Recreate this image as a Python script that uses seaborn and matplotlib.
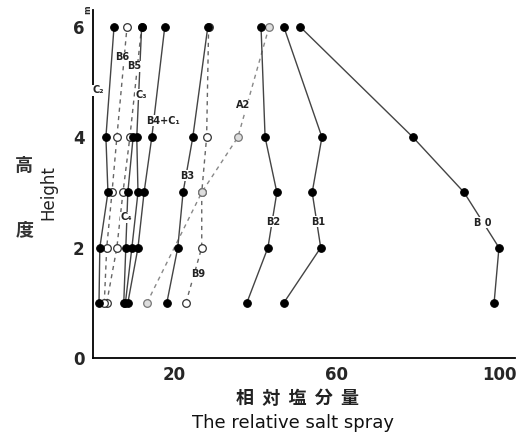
import numpy as np
import pandas as pd
import matplotlib
matplotlib.use("Agg")
import matplotlib.pyplot as plt
import seaborn as sns

# heights (m) where salt spray was sampled
HEIGHTS = [1, 2, 3, 4, 6]

# relative salt spray per station, listed bottom -> top
B0 = [98.8, 100.0, 91.4, 78.8, 51.0]
B1 = [47.0, 56.1, 54.0, 56.4, 47.0]
B2 = [37.9, 43.1, 45.3, 42.4, 41.4]
B3 = [18.2, 20.9, 22.2, 24.6, 28.3]
B9 = [22.9, 26.8, 26.8, 28.0, 28.5]
B4C1 = [8.6, 11.1, 12.6, 14.5, 17.7]
C3 = [8.0, 9.6, 11.1, 10.8, 12.0]
B5 = [3.4, 5.9, 7.4, 9.1, 12.0]
B6 = [2.8, 3.4, 4.7, 5.9, 8.4]
C2 = [1.5, 1.7, 3.7, 3.2, 5.2]

A2_HEIGHTS = [1, 3, 4, 6]
A2 = [13.3, 26.8, 35.7, 43.4]

C4_HEIGHTS = [1, 2, 3, 4]
C4 = [7.6, 8.1, 8.6, 9.9]

# curve labels: text, x, y
LABELS = [
    ("C\u2082", 1.2, 4.85),
    ("B6", 7.3, 5.45),
    ("B5", 10.2, 5.28),
    ("C\u2083", 11.8, 4.77),
    ("B4+C\u2081", 17.2, 4.3),
    ("A2", 37.0, 4.58),
    ("B3", 23.1, 3.3),
    ("C\u2084", 8.2, 2.55),
    ("B2", 44.3, 2.47),
    ("B1", 55.4, 2.47),
    ("B 0", 96.0, 2.45),
    ("B9", 25.9, 1.52),
]

solid = [("B0", B0, HEIGHTS), ("B1", B1, HEIGHTS), ("B2", B2, HEIGHTS),
         ("B3", B3, HEIGHTS), ("B4+C1", B4C1, HEIGHTS), ("C3", C3, HEIGHTS),
         ("C4", C4, C4_HEIGHTS), ("C2", C2, HEIGHTS)]
dashed = [("B9", B9, HEIGHTS), ("B5", B5, HEIGHTS), ("B6", B6, HEIGHTS)]

sns.set_style("white")
plt.rcParams["font.family"] = ["DejaVu Sans", "Noto Sans CJK JP"]

fig = plt.figure(figsize=(5.22, 4.41), dpi=100)
ax = fig.add_axes([0.178, 0.188, 0.809, 0.789])

for name, vals, hs in dashed:
    sns.lineplot(x=vals, y=hs, ax=ax, sort=False, estimator=None,
                 color="#666666", linewidth=1.0, linestyle=(0, (3, 3)),
                 marker="o", markersize=5.5, markerfacecolor="white",
                 markeredgecolor="#333333", markeredgewidth=0.9, zorder=3)

sns.lineplot(x=A2, y=A2_HEIGHTS, ax=ax, sort=False, estimator=None,
             color="#888888", linewidth=1.0, linestyle=(0, (3, 3)),
             marker="o", markersize=5.5, markerfacecolor="#dddddd",
             markeredgecolor="#777777", markeredgewidth=0.9, zorder=3)

for name, vals, hs in solid:
    sns.lineplot(x=vals, y=hs, ax=ax, sort=False, estimator=None,
                 color="#444444", linewidth=1.0, marker="o", markersize=5.5,
                 markerfacecolor="black", markeredgecolor="black", zorder=4)

for text, x, y in LABELS:
    ax.text(x, y, text, fontsize=7, fontweight="bold", ha="center",
            va="center", color="#222222", zorder=5,
            bbox=dict(facecolor="white", edgecolor="none", pad=0.3))

ax.set_xlim(0, 104)
ax.set_ylim(0, 6.3)
ax.set_xticks([20, 40, 60, 80, 100])
ax.set_xticklabels(["20", "", "60", "", "100"])
ax.set_yticks([0, 1, 2, 3, 4, 5, 6])
ax.set_yticklabels(["0", "", "2", "", "4", "", "6"])
ax.tick_params(axis="both", direction="in", length=4, width=1,
               labelsize=12, pad=6)
for lab in ax.get_xticklabels() + ax.get_yticklabels():
    lab.set_fontweight("bold")

sns.despine(ax=ax)
for side in ["left", "bottom"]:
    ax.spines[side].set_color("black")
    ax.spines[side].set_linewidth(1.3)

# axis titles
fig.text(24 / 522, 1 - 165 / 441, "高", fontsize=13, family=["Noto Sans CJK JP"],
         fontweight="bold", ha="center", va="center", color="#333333")
fig.text(25 / 522, 1 - 230 / 441, "度", fontsize=13, family=["Noto Sans CJK JP"],
         fontweight="bold", ha="center", va="center", color="#333333")
fig.text(48 / 522, 1 - 193 / 441, "Height", fontsize=12, rotation=90,
         ha="center", va="center", color="#222222")
fig.text(88 / 522, 1 - 10 / 441, "m", fontsize=6, rotation=90,
         ha="center", va="center", fontweight="bold")
fig.text(297 / 522, 1 - 398 / 441, "相  対  塩  分  量", fontsize=13,
         family=["Noto Sans CJK JP"], fontweight="bold", ha="center",
         va="center", color="#222222")
fig.text(293 / 522, 1 - 423 / 441, "The relative salt spray", fontsize=13,
         ha="center", va="center", color="#111111")

fig.savefig("out.png", dpi=100)
plt.close(fig)
